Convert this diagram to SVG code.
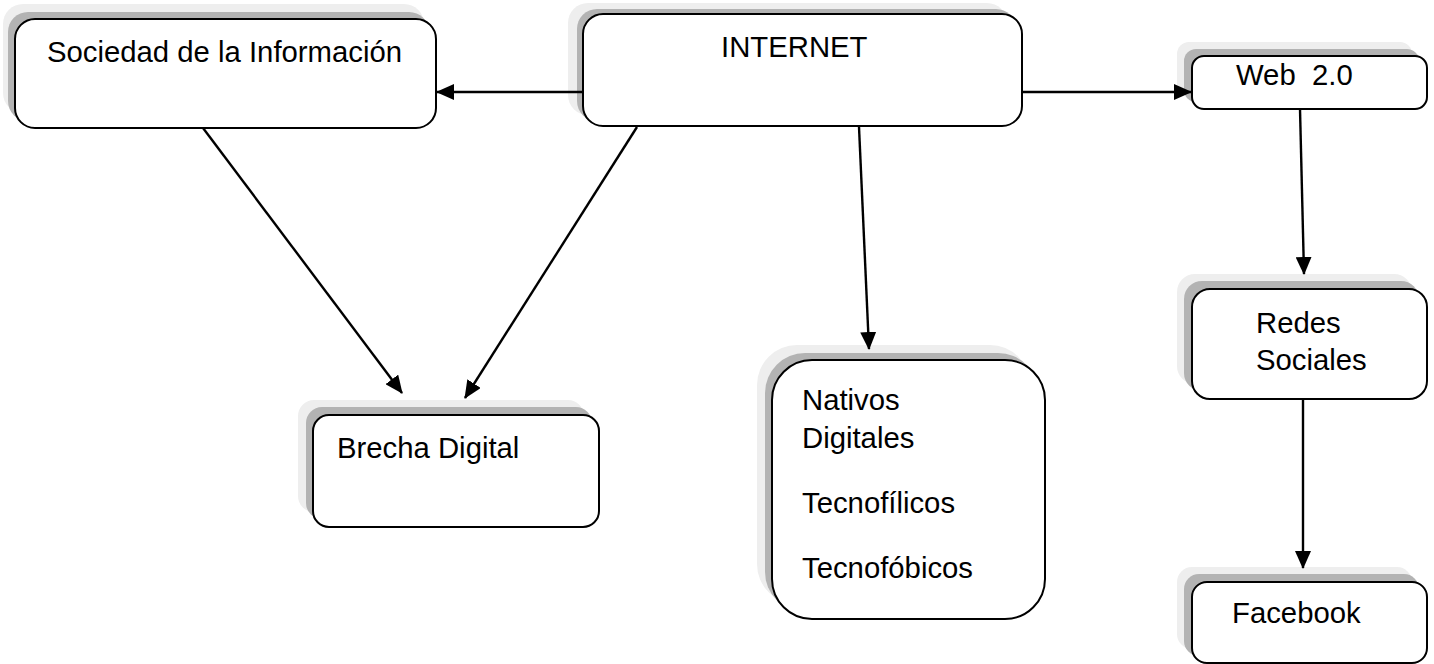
<svg xmlns="http://www.w3.org/2000/svg" width="1434" height="664" viewBox="0 0 1434 664">
<style>
.s1{fill:#eeeeee;stroke:none}
.s2{fill:#b3b3b3;stroke:none}
.box{fill:#ffffff;stroke:#000000;stroke-width:2}
.t{font-family:"Liberation Sans",Arial,sans-serif;font-size:29.3px;fill:#000000}
.c{stroke:#000000;stroke-width:2.4;fill:none;marker-end:url(#ah)}
</style>
<defs>
<marker id="ah" markerWidth="18" markerHeight="16" refX="17" refY="8" orient="auto" markerUnits="userSpaceOnUse">
<path d="M0,0 L18,8 L0,16 Z" fill="#000000"/>
</marker>
</defs>
<rect width="1434" height="664" fill="#ffffff"/>
<g id="sociedad">
<rect class="s1" x="3" y="4" width="421" height="109" rx="20"/>
<rect class="s2" x="8" y="12" width="421" height="109" rx="20"/>
<rect class="box" x="15" y="19" width="421" height="109" rx="20"/>
<text class="t" x="47" y="62">Sociedad de la Información</text>
</g>
<g id="internet">
<rect class="s1" x="568" y="3" width="439" height="112" rx="20"/>
<rect class="s2" x="577" y="9" width="439" height="112" rx="20"/>
<rect class="box" x="583" y="14" width="439" height="112" rx="20"/>
<text class="t" x="721" y="57">INTERNET</text>
</g>
<g id="web20">
<rect class="s1" x="1177" y="42" width="235" height="53" rx="12"/>
<rect class="s2" x="1184" y="49" width="235" height="53" rx="12"/>
<rect class="box" x="1192" y="56" width="235" height="53" rx="12"/>
<text class="t" x="1236" y="85" xml:space="preserve">Web  2.0</text>
</g>
<g id="brecha">
<rect class="s1" x="298" y="400" width="286" height="112" rx="16"/>
<rect class="s2" x="306" y="407" width="286" height="112" rx="16"/>
<rect class="box" x="313" y="415" width="286" height="112" rx="16"/>
<text class="t" x="337" y="458">Brecha Digital</text>
</g>
<g id="nativos">
<rect class="s1" x="757" y="345" width="273" height="259" rx="40"/>
<rect class="s2" x="765" y="353" width="273" height="259" rx="40"/>
<rect class="box" x="772" y="360" width="273" height="259" rx="40"/>
<text class="t" x="802" y="410">Nativos</text>
<text class="t" x="802" y="448">Digitales</text>
<text class="t" x="802" y="513">Tecnofílicos</text>
<text class="t" x="802" y="578">Tecnofóbicos</text>
</g>
<g id="redes">
<rect class="s1" x="1177" y="274" width="235" height="110" rx="18"/>
<rect class="s2" x="1184" y="281" width="235" height="110" rx="18"/>
<rect class="box" x="1192" y="289" width="235" height="110" rx="18"/>
<text class="t" x="1256" y="333">Redes</text>
<text class="t" x="1256" y="370">Sociales</text>
</g>
<g id="facebook">
<rect class="s1" x="1177" y="567" width="235" height="82" rx="15"/>
<rect class="s2" x="1184" y="574" width="235" height="82" rx="15"/>
<rect class="box" x="1192" y="582" width="235" height="81" rx="15"/>
<text class="t" x="1232" y="623">Facebook</text>
</g>
<g id="connectors">
<line class="c" x1="583" y1="92" x2="437" y2="92"/>
<line class="c" x1="1022" y1="92" x2="1191" y2="92"/>
<line class="c" x1="203" y1="128" x2="402" y2="393"/>
<line class="c" x1="637" y1="127" x2="465" y2="398"/>
<line class="c" x1="859" y1="127" x2="869" y2="349"/>
<line class="c" x1="1300" y1="109" x2="1304" y2="274"/>
<line class="c" x1="1303" y1="399" x2="1303" y2="568"/>
</g>
</svg>
